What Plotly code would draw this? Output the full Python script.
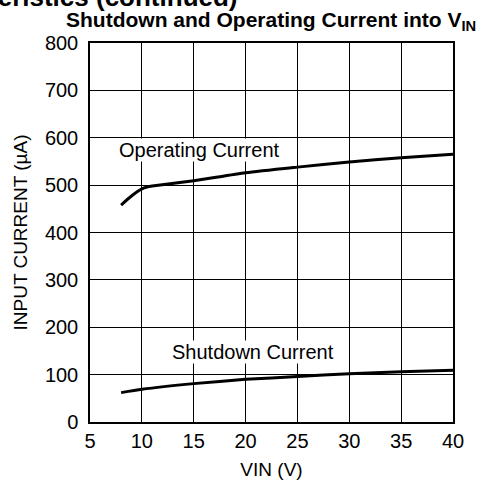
import plotly.graph_objects as go

# Data
op_vin = [8, 9, 10, 10.5, 11, 15, 20, 25, 30, 35, 40]
op_current = [458, 477, 492, 496, 498, 509, 526, 538, 549, 558, 565]

sd_vin = [8, 10, 15, 20, 25, 30, 35, 40]
sd_current = [62, 69, 81, 90, 96, 102, 106, 109]

x_ticks = [5, 10, 15, 20, 25, 30, 35, 40]
y_ticks = [0, 100, 200, 300, 400, 500, 600, 700, 800]

FONT = "Liberation Sans, Arial, sans-serif"
W, H = 482, 489
L, R, T, B = 90, 29, 43, 67
PW, PH = W - L - R, H - T - B


def px_x(px):
    return (px - L) / PW


def px_y(py):
    return (H - B - py) / PH


fig = go.Figure()
fig.add_trace(go.Scatter(x=op_vin, y=op_current, mode="lines",
                         line=dict(color="black", width=3, shape="spline", smoothing=0.6),
                         showlegend=False))
fig.add_trace(go.Scatter(x=sd_vin, y=sd_current, mode="lines",
                         line=dict(color="black", width=3, shape="spline", smoothing=0.6),
                         showlegend=False))

fig.add_annotation(x=7.7, y=575, xref="x", yref="y", text="Operating Current",
                   showarrow=False, xanchor="left", yanchor="middle",
                   bgcolor="white", borderpad=0,
                   font=dict(family=FONT, size=20, color="black"))
fig.add_annotation(x=12.8, y=147, xref="x", yref="y", text="Shutdown Current",
                   showarrow=False, xanchor="left", yanchor="middle",
                   bgcolor="white", borderpad=0,
                   font=dict(family=FONT, size=20, color="black"))

# Chart title (spans roughly x=57..475 px)
fig.add_annotation(x=px_x(478), y=px_y(36), xref="paper", yref="paper",
                   text="<b>Shutdown and Operating Current into V<sub>IN</sub></b>",
                   showarrow=False, xanchor="right", yanchor="bottom",
                   font=dict(family=FONT, size=21, color="black"))

# Cut-off section heading at the very top
fig.add_annotation(x=px_x(240), y=px_y(14), xref="paper", yref="paper",
                   text="<b>Typical Characteristics (continued)</b>",
                   showarrow=False, xanchor="right", yanchor="bottom",
                   font=dict(family=FONT, size=26, color="black"))

fig.update_layout(
    width=W, height=H,
    margin=dict(l=L, r=R, t=T, b=B, autoexpand=False),
    paper_bgcolor="white", plot_bgcolor="white",
    font=dict(family=FONT, size=20, color="black"),
)

fig.update_xaxes(range=[5, 40], tickvals=x_ticks, ticktext=[str(v) for v in x_ticks],
                 showgrid=True, gridcolor="black", gridwidth=1,
                 showline=True, linecolor="black", linewidth=1.5, mirror=True,
                 zeroline=False, ticks="", automargin=False,
                 title=dict(text="VIN (V)", font=dict(family=FONT, size=19), standoff=12),
                 tickfont=dict(family=FONT, size=20))
fig.update_yaxes(range=[0, 800], tickvals=y_ticks, ticktext=[str(v) for v in y_ticks],
                 showgrid=True, gridcolor="black", gridwidth=1,
                 showline=True, linecolor="black", linewidth=1.5, mirror=True,
                 zeroline=False, ticks="outside", ticklen=6, tickcolor="white",
                 automargin=False,
                 title=dict(text="INPUT CURRENT (µA)", font=dict(family=FONT, size=19), standoff=12),
                 tickfont=dict(family=FONT, size=20))

fig.write_html("out.html", config={"displayModeBar": False},
               post_script="document.body.style.margin='0';")
